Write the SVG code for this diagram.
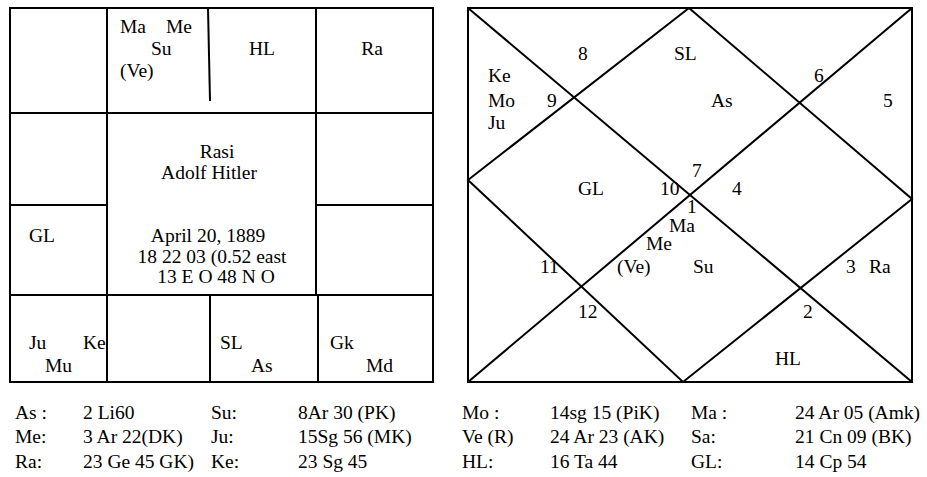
<svg xmlns="http://www.w3.org/2000/svg" width="927" height="477" viewBox="0 0 927 477">
<style>
text{font-family:"Liberation Serif","Times New Roman",serif;font-size:19.5px;fill:#000}
.ln{stroke:#000;stroke-width:2;fill:none}
.c{text-anchor:middle}
</style>
<rect width="927" height="477" fill="#fff"/>
<g id="rasi-chart">
<g id="rasi-lines" class="ln">
<rect x="10" y="8" width="423" height="374"/>
<line x1="10" y1="113" x2="433" y2="113"/>
<line x1="10" y1="205" x2="107" y2="205"/>
<line x1="316" y1="205" x2="433" y2="205"/>
<line x1="10" y1="295" x2="433" y2="295"/>
<line x1="107" y1="8" x2="107" y2="382"/>
<line x1="316" y1="8" x2="316" y2="295"/>
<line x1="318" y1="295" x2="318" y2="382"/>
<line x1="208" y1="8" x2="210" y2="101"/>
<line x1="210" y1="295" x2="210" y2="382"/>
</g>
<g id="rasi-h12"><text x="120" y="33">Ma</text><text x="166" y="33">Me</text><text x="151" y="55">Su</text><text x="120" y="77">(Ve)</text></g>
<g id="rasi-h1"><text x="262" y="55" class="c">HL</text></g>
<g id="rasi-h2"><text x="372" y="55" class="c">Ra</text></g>
<g id="rasi-h10"><text x="29" y="242">GL</text></g>
<g id="rasi-h9"><text x="29" y="349">Ju</text><text x="83" y="349">Ke</text><text x="45" y="372">Mu</text></g>
<g id="rasi-h7"><text x="220" y="349">SL</text><text x="251" y="372">As</text></g>
<g id="rasi-h6"><text x="330" y="349">Gk</text><text x="366" y="372">Md</text></g>
<g id="rasi-center">
<text x="217" y="158" class="c">Rasi</text>
<text x="209" y="179" class="c">Adolf Hitler</text>
<text x="208" y="242" class="c">April 20, 1889</text>
<text x="212" y="263" class="c">18 22 03 (0.52 east</text>
<text x="216" y="283" class="c">13 E O 48 N O</text>
</g>
</g>
<g id="north-chart">
<g id="north-lines" class="ln">
<rect x="468" y="8" width="444" height="374"/>
<line x1="468" y1="8" x2="912" y2="382"/>
<line x1="912" y1="8" x2="468" y2="382"/>
<polygon points="689,8 912,199 683,382 468,180"/>
</g>
<g id="nh-8"><text x="578" y="60">8</text><text x="674" y="60">SL</text></g>
<g id="nh-9"><text x="488" y="82">Ke</text><text x="488" y="107">Mo</text><text x="488" y="129">Ju</text><text x="547" y="107">9</text></g>
<g id="nh-7"><text x="711" y="107">As</text><text x="692" y="177">7</text></g>
<g id="nh-6"><text x="814" y="82">6</text><text x="883" y="107">5</text></g>
<g id="nh-10"><text x="578" y="195">GL</text><text x="660" y="195">10</text></g>
<g id="nh-4"><text x="732" y="195">4</text></g>
<g id="nh-1"><text x="687" y="213">1</text><text x="669" y="232">Ma</text><text x="646" y="250">Me</text><text x="617" y="273">(Ve)</text><text x="693" y="273">Su</text></g>
<g id="nh-11"><text x="540" y="273">11</text></g>
<g id="nh-3"><text x="846" y="273">3</text><text x="869" y="273">Ra</text></g>
<g id="nh-12"><text x="578" y="318">12</text></g>
<g id="nh-2"><text x="803" y="318">2</text><text x="775" y="365">HL</text></g>
</g>
<g id="table">
<text x="15" y="419">As :</text><text x="83" y="419">2 Li60</text><text x="211" y="419">Su:</text><text x="298" y="419">8Ar 30 (PK)</text>
<text x="15" y="443">Me:</text><text x="83" y="443">3 Ar 22(DK)</text><text x="211" y="443">Ju:</text><text x="298" y="443">15Sg 56 (MK)</text>
<text x="15" y="468">Ra:</text><text x="83" y="468">23 Ge 45 GK)</text><text x="211" y="468">Ke:</text><text x="298" y="468">23 Sg 45</text>
<text x="462" y="419">Mo :</text><text x="550" y="419">14sg 15 (PiK)</text><text x="691" y="419">Ma :</text><text x="795" y="419">24 Ar 05 (Amk)</text>
<text x="462" y="443">Ve (R)</text><text x="550" y="443">24 Ar 23 (AK)</text><text x="691" y="443">Sa:</text><text x="795" y="443">21 Cn 09 (BK)</text>
<text x="462" y="468">HL:</text><text x="550" y="468">16 Ta 44</text><text x="691" y="468">GL:</text><text x="795" y="468">14 Cp 54</text>
</g>
</svg>
